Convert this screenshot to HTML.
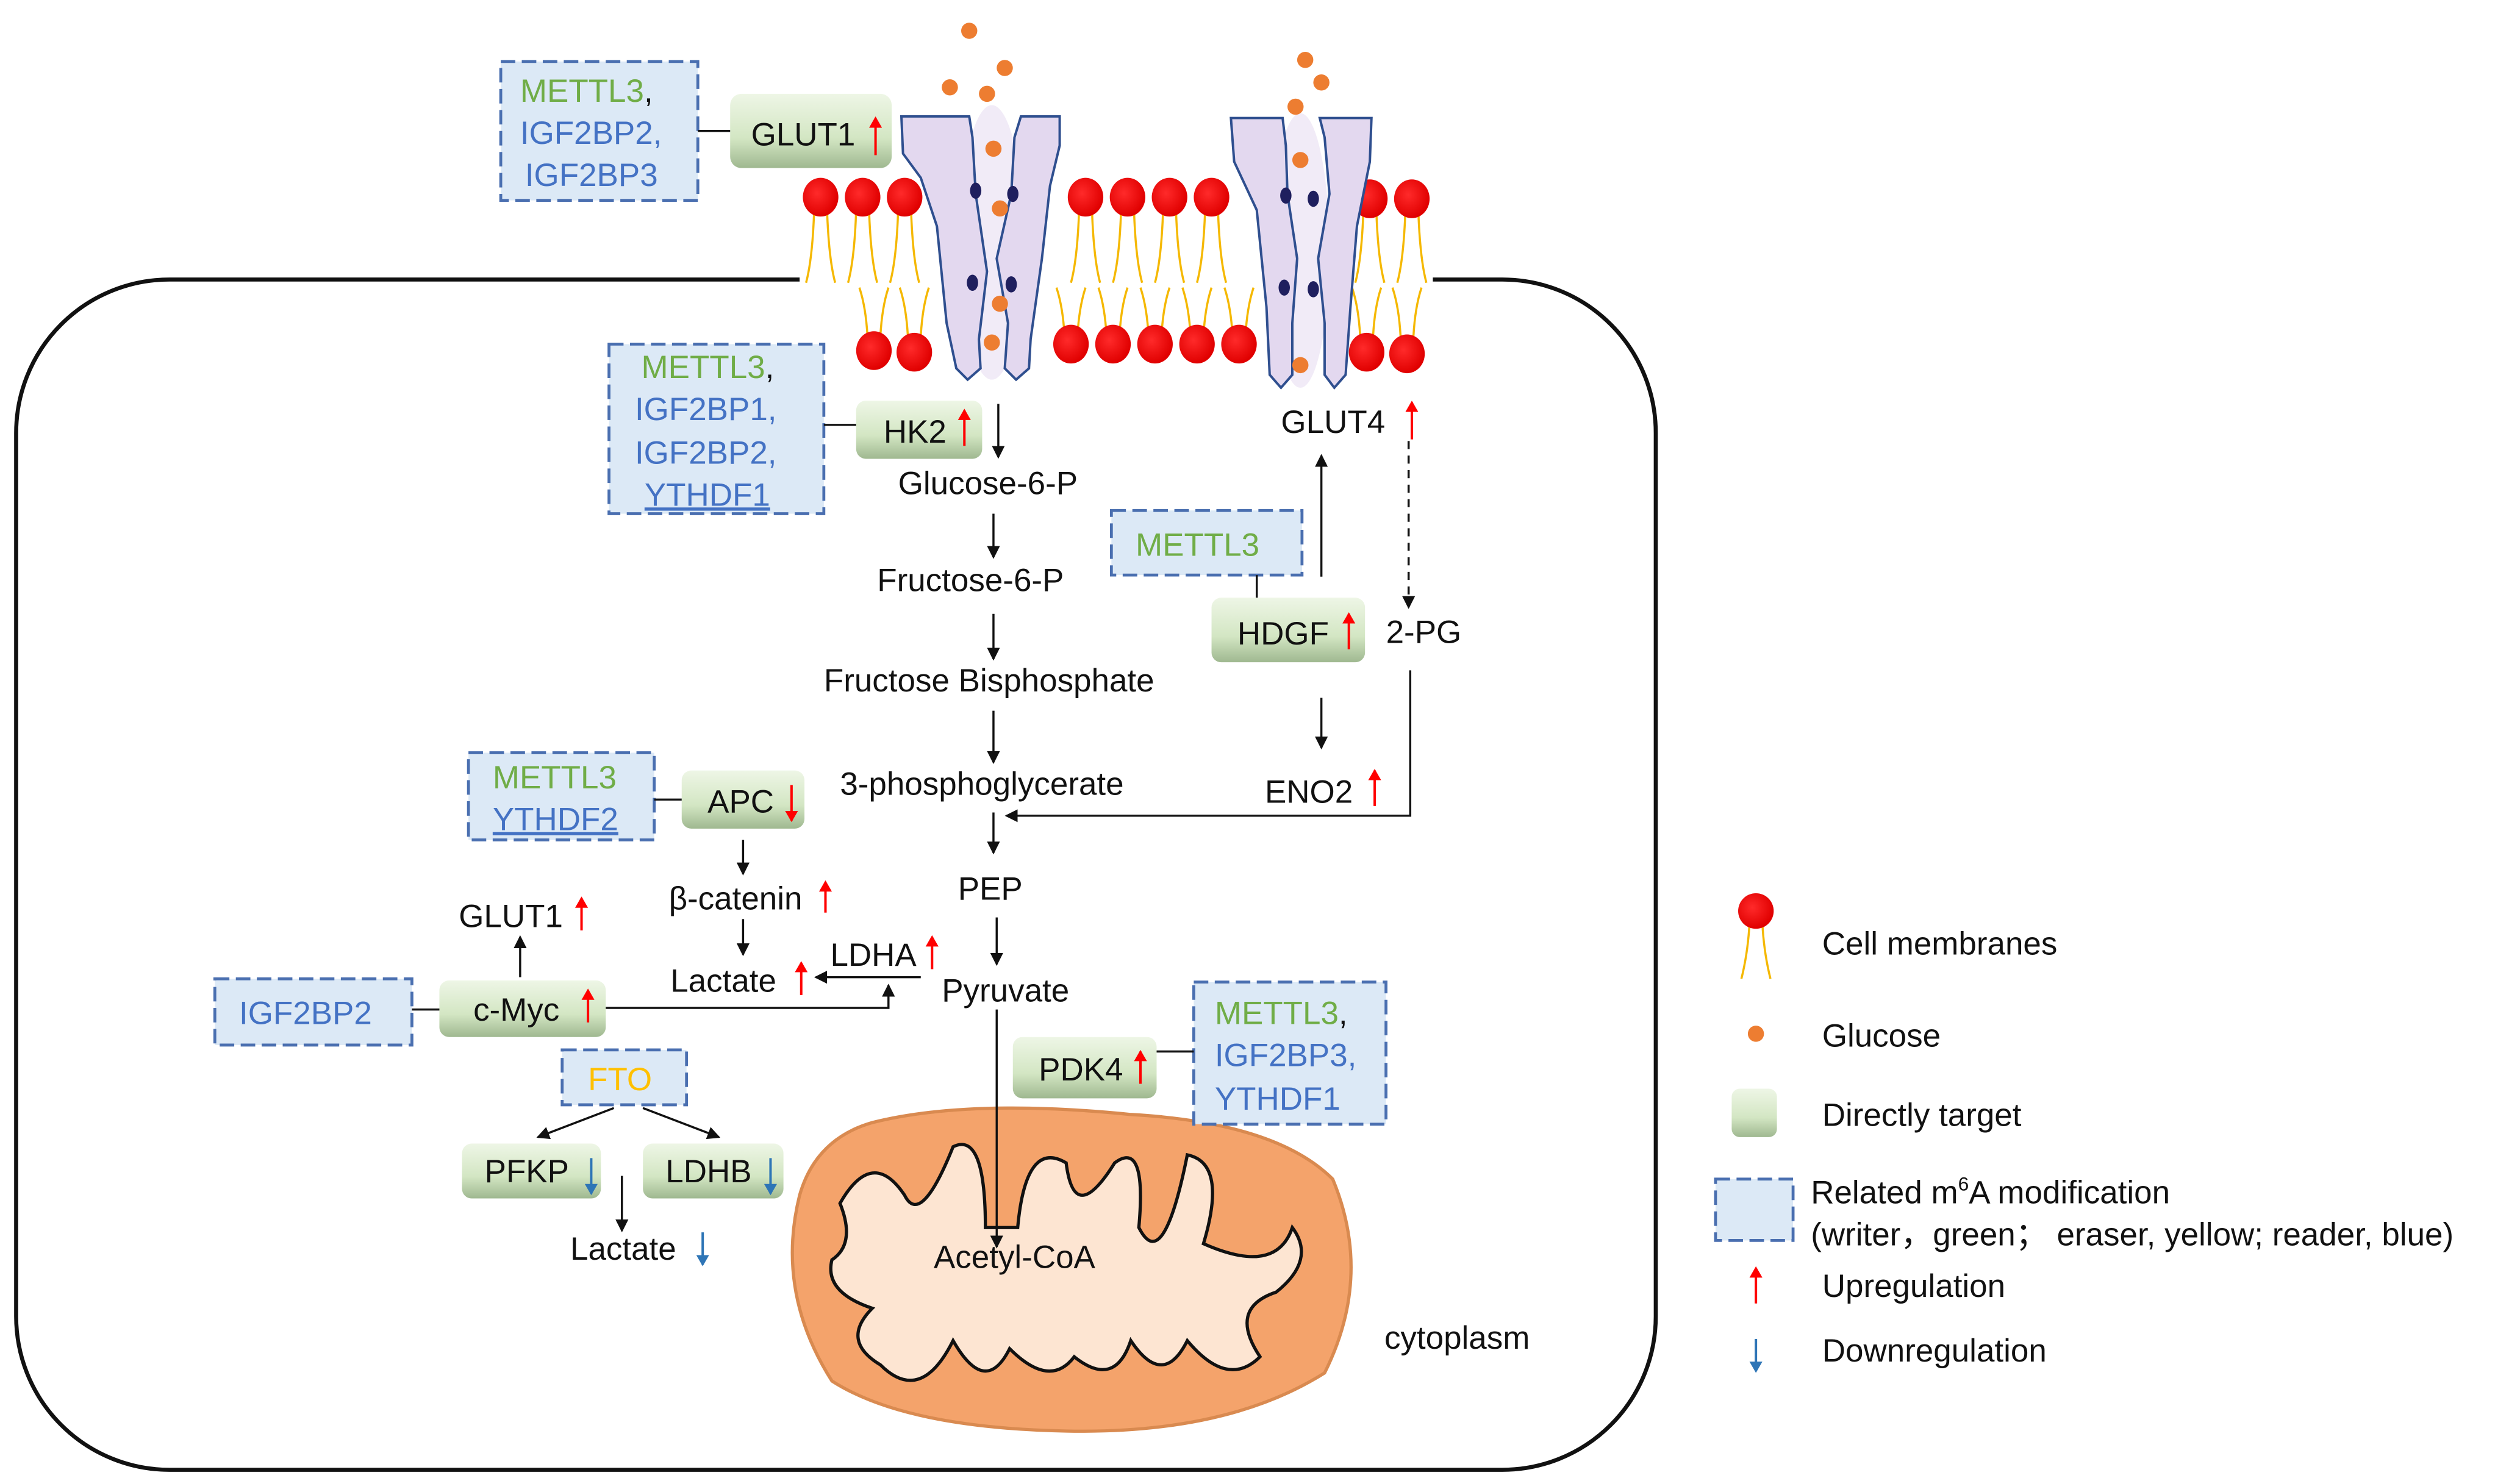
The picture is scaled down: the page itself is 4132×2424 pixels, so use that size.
<!DOCTYPE html>
<html><head><meta charset="utf-8"><style>
html,body{margin:0;padding:0;background:#fff}
svg{display:block}
text{font-family:"Liberation Sans",Arial,sans-serif;font-size:20px;fill:#111}
.g{fill:#70ad47}.b{fill:#4472c4}.y{fill:#ffc000}
</style></head><body>
<svg width="4132" height="2424" viewBox="0 0 1560 915" xmlns="http://www.w3.org/2000/svg">
<defs>
<marker id="ah" markerWidth="8" markerHeight="8" refX="7" refY="4" orient="auto" markerUnits="userSpaceOnUse"><path d="M0,0 L8,4 L0,8 z" fill="#111"/></marker>
<marker id="ar" markerWidth="7" markerHeight="8" refX="6" refY="4" orient="auto" markerUnits="userSpaceOnUse"><path d="M0,0 L7,4 L0,8 z" fill="#f00"/></marker>
<marker id="ab" markerWidth="7" markerHeight="8" refX="6" refY="4" orient="auto" markerUnits="userSpaceOnUse"><path d="M0,0 L7,4 L0,8 z" fill="#2e75b6"/></marker>
<linearGradient id="gg" x1="0" y1="0" x2="0" y2="1"><stop offset="0" stop-color="#eef6e6"/><stop offset="0.6" stop-color="#d3e6c3"/><stop offset="1" stop-color="#9fb890"/></linearGradient>
<radialGradient id="rh" cx="0.4" cy="0.4" r="0.6"><stop offset="0" stop-color="#ff2a2a"/><stop offset="1" stop-color="#e00000"/></radialGradient>
</defs>

<rect x="10" y="173" width="1015" height="737" rx="95" fill="none" stroke="#111" stroke-width="2.5"/>
<rect x="495" y="160" width="392" height="30" fill="#fff"/>

<g stroke="#f5b800" stroke-width="1.3" fill="none">
<path d="M504,130 Q503,160 499,175 M512,130 Q513,160 517,175"/>
<path d="M530,130 Q529,160 525,175 M538,130 Q539,160 543,175"/>
<path d="M556,130 Q555,160 551,175 M564,130 Q565,160 569,175"/>
<path d="M668,130 Q667,160 663,175 M676,130 Q677,160 681,175"/>
<path d="M694,130 Q693,160 689,175 M702,130 Q703,160 707,175"/>
<path d="M720,130 Q719,160 715,175 M728,130 Q729,160 733,175"/>
<path d="M746,130 Q745,160 741,175 M754,130 Q755,160 759,175"/>
<path d="M844,130 Q843,160 839,175 M852,130 Q853,160 857,175"/>
<path d="M870,130 Q869,160 865,175 M878,130 Q879,160 883,175"/>
<path d="M537,208 Q536,190 532,178 M545,208 Q546,190 550,178"/>
<path d="M562,208 Q561,190 557,178 M570,208 Q571,190 575,178"/>
<path d="M659,208 Q658,190 654,178 M667,208 Q668,190 672,178"/>
<path d="M685,208 Q684,190 680,178 M693,208 Q694,190 698,178"/>
<path d="M711,208 Q710,190 706,178 M719,208 Q720,190 724,178"/>
<path d="M737,208 Q736,190 732,178 M745,208 Q746,190 750,178"/>
<path d="M763,208 Q762,190 758,178 M771,208 Q772,190 776,178"/>
<path d="M842,208 Q841,190 837,178 M850,208 Q851,190 855,178"/>
<path d="M867,208 Q866,190 862,178 M875,208 Q876,190 880,178"/>
</g>
<g fill="url(#rh)">
<ellipse cx="508" cy="122" rx="11" ry="12"/><ellipse cx="534" cy="122" rx="11" ry="12"/><ellipse cx="560" cy="122" rx="11" ry="12"/>
<ellipse cx="672" cy="122" rx="11" ry="12"/><ellipse cx="698" cy="122" rx="11" ry="12"/><ellipse cx="724" cy="122" rx="11" ry="12"/><ellipse cx="750" cy="122" rx="11" ry="12"/>
<ellipse cx="848" cy="123" rx="11" ry="12"/><ellipse cx="874" cy="123" rx="11" ry="12"/>
<ellipse cx="541" cy="217" rx="11" ry="12"/><ellipse cx="566" cy="218" rx="11" ry="12"/>
<ellipse cx="663" cy="213" rx="11" ry="12"/><ellipse cx="689" cy="213" rx="11" ry="12"/><ellipse cx="715" cy="213" rx="11" ry="12"/><ellipse cx="741" cy="213" rx="11" ry="12"/><ellipse cx="767" cy="213" rx="11" ry="12"/>
<ellipse cx="846" cy="218" rx="11" ry="12"/><ellipse cx="871" cy="219" rx="11" ry="12"/>
</g>

<ellipse cx="614" cy="150" rx="20" ry="85" fill="#f1ebf7"/>
<ellipse cx="805" cy="155" rx="18" ry="85" fill="#f1ebf7"/>
<g fill="#e3d8ef" stroke="#2f4f8f" stroke-width="1.5">
<path d="M558,72 L600,72 L602,85 L604,120 L611,168 L606,210 L607,228 L599,235 L592,228 L586,200 L580,140 L570,110 L559,95 Z"/>
<path d="M632,72 L656,72 L656,90 L650,115 L645,160 L638,210 L637,228 L629,235 L622,228 L624,200 L617,160 L626,120 L628,85 Z"/>
<path d="M762,73 L794,73 L796,90 L797,120 L803,160 L800,200 L800,232 L793,240 L786,232 L784,190 L778,130 L764,100 Z"/>
<path d="M817,73 L849,73 L848,100 L840,140 L836,190 L833,232 L826,240 L820,232 L820,200 L816,160 L823,120 L820,85 Z"/>
</g>
<g fill="#1f1f5e">
<ellipse cx="604" cy="118" rx="3.5" ry="5"/><ellipse cx="627" cy="120" rx="3.5" ry="5"/>
<ellipse cx="602" cy="175" rx="3.5" ry="5"/><ellipse cx="626" cy="176" rx="3.5" ry="5"/>
<ellipse cx="796" cy="121" rx="3.5" ry="5"/><ellipse cx="813" cy="123" rx="3.5" ry="5"/>
<ellipse cx="795" cy="178" rx="3.5" ry="5"/><ellipse cx="813" cy="179" rx="3.5" ry="5"/>
</g>
<g fill="#ed7d31">
<circle cx="600" cy="19" r="5"/><circle cx="622" cy="42" r="5"/><circle cx="588" cy="54" r="5"/><circle cx="611" cy="58" r="5"/>
<circle cx="615" cy="92" r="5"/><circle cx="619" cy="129" r="5"/><circle cx="619" cy="188" r="5"/><circle cx="614" cy="212" r="5"/>
<circle cx="808" cy="37" r="5"/><circle cx="818" cy="51" r="5"/><circle cx="802" cy="66" r="5"/><circle cx="805" cy="99" r="5"/><circle cx="805" cy="226" r="5"/>
</g>

<path d="M540,695 Q600,680 700,690 Q790,695 825,730 Q850,790 820,850 Q760,888 660,886 Q560,884 515,855 Q480,800 495,740 Q505,705 540,695 Z" fill="#f4a36b" stroke="#d98a50" stroke-width="2"/>
<path d="M520,745 Q540,710 560,740 Q570,760 590,710 Q610,700 610,760 L630,760 Q635,705 660,720 Q665,760 690,720 Q710,705 705,760 Q720,790 735,715 Q760,720 745,770 Q790,790 800,760 Q815,780 790,800 Q760,810 780,840 Q760,860 735,830 Q720,860 700,830 Q690,860 665,840 Q650,860 625,835 Q610,865 590,830 Q570,870 545,845 Q520,830 540,810 Q510,800 515,780 Q530,770 520,745 Z" fill="#fde5d2" stroke="#111" stroke-width="2"/>

<g fill="url(#gg)">
<rect x="452" y="58" width="100" height="46" rx="7"/>
<rect x="530" y="248" width="78" height="36" rx="6"/>
<rect x="750" y="370" width="95" height="40" rx="6"/>
<rect x="422" y="477" width="76" height="36" rx="6"/>
<rect x="272" y="607" width="103" height="35" rx="6"/>
<rect x="627" y="642" width="89" height="38" rx="6"/>
<rect x="286" y="708" width="86" height="34" rx="6"/>
<rect x="398" y="708" width="87" height="34" rx="6"/>
<rect x="1072" y="674" width="28" height="30" rx="5"/>
</g>
<g fill="#dce9f6" stroke="#4a6fb0" stroke-width="1.8" stroke-dasharray="9,4">
<rect x="310" y="38" width="122" height="86"/>
<rect x="377" y="213" width="133" height="105"/>
<rect x="688" y="316" width="118" height="40"/>
<rect x="290" y="466" width="115" height="54"/>
<rect x="133" y="606" width="122" height="41"/>
<rect x="348" y="650" width="77" height="34"/>
<rect x="739" y="608" width="119" height="88"/>
<rect x="1062" y="730" width="48" height="38"/>
</g>

<g stroke="#111" stroke-width="1.3" fill="none">
<line x1="432" y1="81" x2="452" y2="81"/>
<line x1="510" y1="263" x2="530" y2="263"/>
<line x1="405" y1="495" x2="422" y2="495"/>
<line x1="255" y1="625" x2="272" y2="625"/>
<line x1="716" y1="651" x2="739" y2="651"/>
<line x1="778" y1="356" x2="778" y2="370"/>
</g>
<g stroke="#111" stroke-width="1.3" fill="none" marker-end="url(#ah)">
<line x1="618" y1="250" x2="618" y2="283"/>
<line x1="615" y1="318" x2="615" y2="345"/>
<line x1="615" y1="380" x2="615" y2="408"/>
<line x1="615" y1="440" x2="615" y2="472"/>
<line x1="615" y1="503" x2="615" y2="528"/>
<line x1="617" y1="568" x2="617" y2="597"/>
<line x1="617" y1="625" x2="617" y2="772"/>
<polyline points="873,415 873,505 623,505"/>
<line x1="872" y1="273" x2="872" y2="376" stroke-dasharray="5,4"/>
<line x1="818" y1="357" x2="818" y2="282"/>
<line x1="818" y1="432" x2="818" y2="463"/>
<line x1="460" y1="520" x2="460" y2="541"/>
<line x1="460" y1="569" x2="460" y2="591"/>
<line x1="570" y1="605" x2="505" y2="605"/>
<polyline points="375,624 550,624 550,610"/>
<line x1="322" y1="605" x2="322" y2="580"/>
<line x1="380" y1="686" x2="333" y2="704"/>
<line x1="398" y1="686" x2="445" y2="704"/>
<line x1="385" y1="728" x2="385" y2="762"/>
</g>

<text x="322" y="63"><tspan class="g">METTL3</tspan>,</text>
<text x="322" y="89" class="b">IGF2BP2,</text>
<text x="325" y="115" class="b">IGF2BP3</text>
<text x="465" y="90">GLUT1</text>
<text x="397" y="234"><tspan class="g">METTL3</tspan>,</text>
<text x="393" y="260" class="b">IGF2BP1,</text>
<text x="393" y="287" class="b">IGF2BP2,</text>
<text x="399" y="313" class="b" text-decoration="underline">YTHDF1</text>
<text x="547" y="274">HK2</text>
<text x="556" y="306">Glucose-6-P</text>
<text x="543" y="366">Fructose-6-P</text>
<text x="510" y="428">Fructose Bisphosphate</text>
<text x="520" y="492">3-phosphoglycerate</text>
<text x="593" y="557">PEP</text>
<text x="583" y="620">Pyruvate</text>
<text x="578" y="785">Acetyl-CoA</text>
<text x="793" y="268">GLUT4</text>
<text x="703" y="344" class="g">METTL3</text>
<text x="766" y="399">HDGF</text>
<text x="858" y="398">2-PG</text>
<text x="783" y="497">ENO2</text>
<text x="305" y="488" class="g">METTL3</text>
<text x="305" y="514" class="b" text-decoration="underline">YTHDF2</text>
<text x="438" y="503">APC</text>
<text x="414" y="563">β-catenin</text>
<text x="415" y="614">Lactate</text>
<text x="514" y="598">LDHA</text>
<text x="284" y="574">GLUT1</text>
<text x="148" y="634" class="b">IGF2BP2</text>
<text x="293" y="632">c-Myc</text>
<text x="364" y="675" class="y">FTO</text>
<text x="643" y="669">PDK4</text>
<text x="752" y="634"><tspan class="g">METTL3</tspan>,</text>
<text x="752" y="660" class="b">IGF2BP3,</text>
<text x="752" y="687" class="b">YTHDF1</text>
<text x="300" y="732">PFKP</text>
<text x="412" y="732">LDHB</text>
<text x="353" y="780">Lactate</text>
<text x="857" y="835">cytoplasm</text>
<text x="1128" y="591">Cell membranes</text>
<text x="1128" y="648">Glucose</text>
<text x="1128" y="697">Directly target</text>
<text x="1121" y="745">Related m<tspan font-size="12" dy="-8">6</tspan><tspan dy="8">A modification</tspan></text>
<text x="1121" y="771">(writer，green；  eraser, yellow; reader, blue)</text>
<text x="1128" y="803">Upregulation</text>
<text x="1128" y="843">Downregulation</text>

<g stroke="#f00" stroke-width="1.5" marker-end="url(#ar)">
<line x1="542" y1="96" x2="542" y2="73"/>
<line x1="597" y1="276" x2="597" y2="254"/>
<line x1="874" y1="272" x2="874" y2="249"/>
<line x1="835" y1="402" x2="835" y2="380"/>
<line x1="851" y1="499" x2="851" y2="477"/>
<line x1="511" y1="565" x2="511" y2="546"/>
<line x1="496" y1="616" x2="496" y2="596"/>
<line x1="577" y1="600" x2="577" y2="580"/>
<line x1="360" y1="576" x2="360" y2="556"/>
<line x1="364" y1="633" x2="364" y2="613"/>
<line x1="706" y1="671" x2="706" y2="651"/>
<line x1="1087" y1="807" x2="1087" y2="785"/>
<line x1="490" y1="486" x2="490" y2="508"/>
</g>
<g stroke="#2e75b6" stroke-width="1.5" marker-end="url(#ab)">
<line x1="366" y1="717" x2="366" y2="739"/>
<line x1="477" y1="717" x2="477" y2="739"/>
<line x1="435" y1="763" x2="435" y2="783"/>
<line x1="1087" y1="829" x2="1087" y2="849"/>
</g>

<path d="M1083,572 Q1082,590 1078,606 M1091,572 Q1092,590 1096,606" stroke="#f5b800" stroke-width="1.3" fill="none"/>
<circle cx="1087" cy="564" r="11" fill="url(#rh)"/>
<circle cx="1087" cy="640" r="5" fill="#ed7d31"/>
</svg>
</body></html>
